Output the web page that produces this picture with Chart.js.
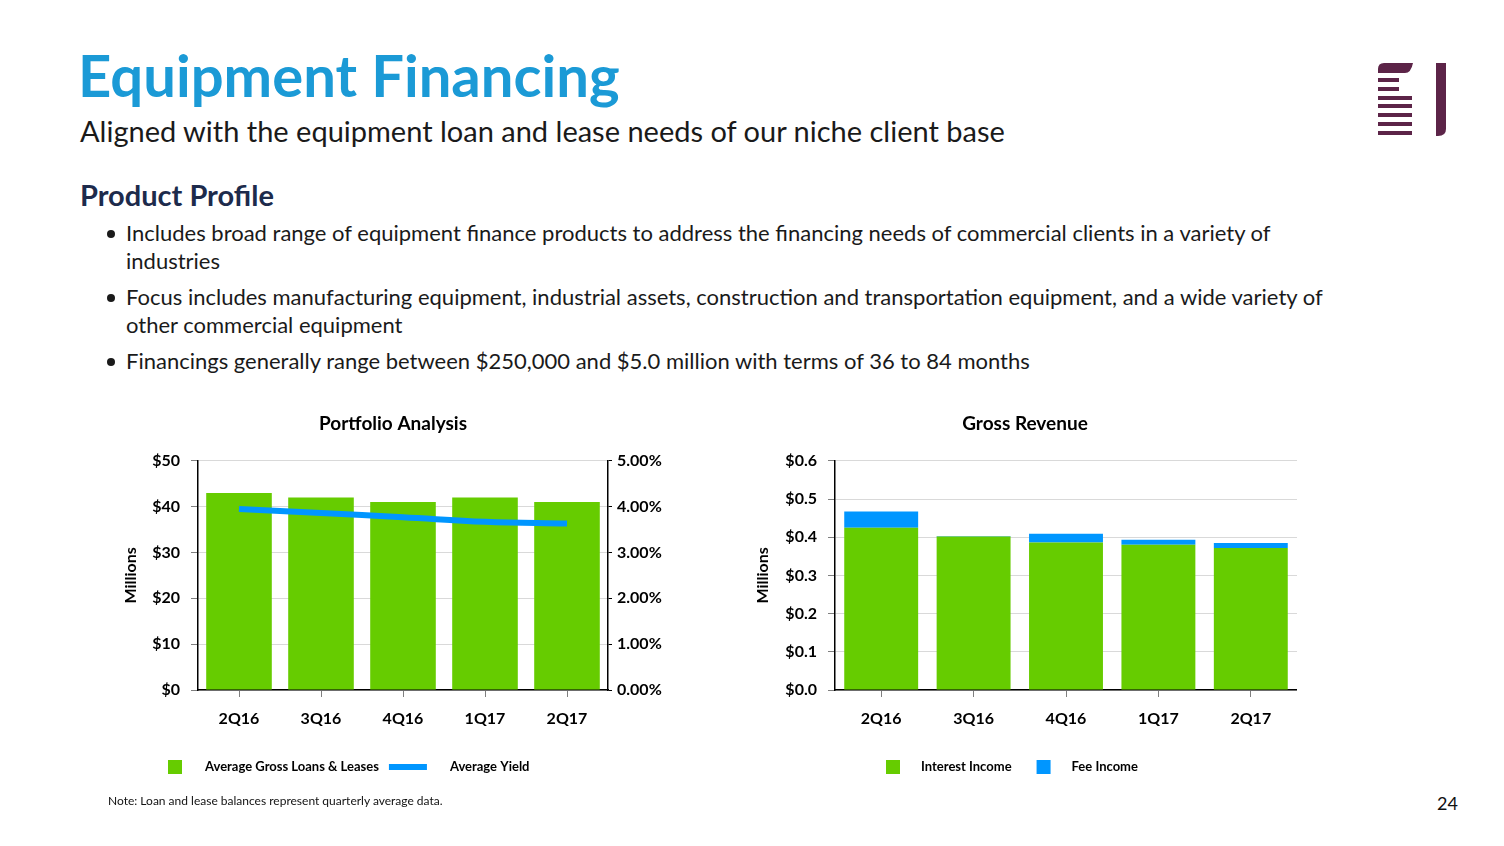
<!DOCTYPE html>
<html>
<head>
<meta charset="utf-8">
<script src="https://cdn.jsdelivr.net/npm/chart.js@4.4.0/dist/chart.umd.min.js"></script>
<style>
  body { margin: 0; width: 1504px; height: 846px; background: #fff; position: relative; overflow: hidden; font-family: Lato, "Open Sans", sans-serif; color: #111; }
  .abs { position: absolute; white-space: nowrap; }
  #title { left: 78px; top: 40px; font-size: 58px; font-weight: 700; color: #1b9ad6; line-height: 70px; }
  #subtitle { left: 80px; top: 114px; font-size: 29px; line-height: 34px; color: #1a1a1a; }
  #profile { left: 80px; top: 178px; font-size: 29px; font-weight: 700; line-height: 34px; color: #1d2b4c; }
  .bullet { left: 126px; font-size: 22px; line-height: 28px; color: #1a1a1a; }
  .bullet::before { content: ""; position: absolute; left: -19px; top: 11px; width: 8px; height: 8px; border-radius: 50%; background: #1a1a1a; }
  #note { left: 108px; top: 793px; font-size: 12px; line-height: 16px; color: #111; }
  #page { left: 1437px; top: 792px; font-size: 18px; line-height: 22px; color: #111; }
  canvas { position: absolute; }
</style>
</head>
<body>
<div id="title" class="abs">Equipment Financing</div>
<div id="subtitle" class="abs">Aligned with the equipment loan and lease needs of our niche client base</div>
<div id="profile" class="abs">Product Profile</div>
<div class="abs bullet" style="top:219px">Includes broad range of equipment finance products to address the financing needs of commercial clients in a variety of<br>industries</div>
<div class="abs bullet" style="top:283px">Focus includes manufacturing equipment, industrial assets, construction and transportation equipment, and a wide variety of<br>other commercial equipment</div>
<div class="abs bullet" style="top:347px">Financings generally range between $250,000 and $5.0 million with terms of 36 to 84 months</div>

<svg class="abs" style="left:1378px;top:63px" width="70" height="75" viewBox="0 0 70 75">
  <path d="M6 0 H35 Q33 10 27 10 H0 V6 Q0 0 6 0 Z" fill="#5c2448"/>
  <rect x="0" y="15" width="21" height="4" fill="#5c2448"/>
  <rect x="0" y="24" width="21" height="4" fill="#5c2448"/>
  <rect x="0" y="33" width="34" height="4" fill="#5c2448"/>
  <rect x="0" y="41" width="34" height="4" fill="#5c2448"/>
  <rect x="0" y="50" width="34" height="4" fill="#5c2448"/>
  <rect x="0" y="59" width="34" height="4" fill="#5c2448"/>
  <rect x="0" y="68" width="34" height="4" fill="#5c2448"/>
  <path d="M58 0 H68 V66 Q68 73 60 73 H58 Z" fill="#5c2448"/>
</svg>

<canvas id="portfolio" width="600" height="400" style="left:93px;top:400px"></canvas>
<canvas id="revenue" width="597" height="400" style="left:700px;top:400px"></canvas>

<div id="note" class="abs">Note: Loan and lease balances represent quarterly average data.</div>
<div id="page" class="abs">24</div>

<script>
// quarters shown on both charts
const quarters = ['2Q16', '3Q16', '4Q16', '1Q17', '2Q17'];

// Portfolio Analysis ($ millions, yield %)
const avgLoans = [43, 42, 41, 42, 41];
const avgYield = [3.95, 3.86, 3.77, 3.67, 3.63];

// Gross Revenue ($ millions)
const interestIncome = [0.425, 0.402, 0.386, 0.380, 0.372];
const feeIncome = [0.042, 0.001, 0.023, 0.013, 0.013];

const green = '#66cc00';
const blue = '#0096ff';
const font = 'Lato, "Open Sans", sans-serif';

Chart.defaults.font.family = font;
Chart.defaults.color = '#000';

const tickFont = { family: font, size: 16, weight: 'bold' };
const titleFont = { family: font, size: 19, weight: 'bold' };

// legend under the plot: square for bars, flat bar for the line
const bottomLegend = {
  id: 'bottomLegend',
  afterDraw(chart, args, opts) {
    const ctx = chart.ctx;
    ctx.save();
    ctx.font = 'bold 13px ' + font;
    ctx.textBaseline = 'middle';
    let x = opts.x;
    const y = opts.y;
    chart.data.datasets.forEach(ds => {
      if (ds.type === 'line') {
        ctx.fillStyle = ds.borderColor;
        ctx.fillRect(x, y - 3, 38, 6);
        x += 38;
      } else {
        ctx.fillStyle = ds.backgroundColor;
        ctx.fillRect(x, y - 7, 14, 14);
        x += 14;
      }
      x += opts.markGap;
      ctx.fillStyle = '#000';
      ctx.fillText(ds.label, x, y);
      x += ctx.measureText(ds.label).width + opts.itemGap;
    });
    ctx.restore();
  }
};

function yTitle(pad) {
  return { display: true, text: 'Millions', font: tickFont, color: '#000', padding: { top: pad, bottom: 0 } };
}

function xScale(stacked) {
  return {
    stacked: stacked,
    grid: { drawOnChartArea: false, offset: false, tickLength: 7, color: '#7f7f7f' },
    border: { color: '#000', width: 1.5 },
    ticks: { font: tickFont, color: '#000', padding: 12 },
    afterFit: s => { s.height = 40; }
  };
}

new Chart(document.getElementById('portfolio'), {
  type: 'bar',
  data: {
    labels: quarters,
    datasets: [
      { type: 'bar', label: 'Average Gross Loans & Leases', data: avgLoans, backgroundColor: green,
        yAxisID: 'y', barPercentage: 0.8, categoryPercentage: 1, order: 1 },
      { type: 'line', label: 'Average Yield', data: avgYield, borderColor: blue, borderWidth: 6,
        borderCapStyle: 'butt', pointRadius: 0, tension: 0.4, yAxisID: 'y1', order: 0 }
    ]
  },
  options: {
    responsive: false,
    animation: false,
    layout: { padding: { bottom: 70 } },
    plugins: {
      legend: { display: false },
      tooltip: { enabled: false },
      title: { display: true, text: 'Portfolio Analysis', font: titleFont, color: '#000',
               padding: { top: 12, bottom: 26 } },
      bottomLegend: { x: 75, y: 367, markGap: 23, itemGap: 10 }
    },
    scales: {
      x: xScale(false),
      y: {
        min: 0, max: 50,
        ticks: { stepSize: 10, font: tickFont, color: '#000', padding: 11, callback: v => '$' + v },
        grid: { color: '#d9d9d9', tickLength: 7, tickColor: '#7f7f7f' },
        border: { color: '#000', width: 1.5 },
        title: yTitle(28),
        afterFit: s => { s.width = 105; }
      },
      y1: {
        position: 'right',
        min: 0, max: 5,
        ticks: { stepSize: 1, font: tickFont, color: '#000', padding: 5, callback: v => v.toFixed(2) + '%' },
        grid: { drawOnChartArea: false, tickLength: 4, tickColor: '#000' },
        border: { color: '#000', width: 1.5 },
        afterFit: s => { s.width = 85; }
      }
    }
  },
  plugins: [bottomLegend]
});

new Chart(document.getElementById('revenue'), {
  type: 'bar',
  data: {
    labels: quarters,
    datasets: [
      { label: 'Interest Income', data: interestIncome, backgroundColor: green, barPercentage: 0.8, categoryPercentage: 1 },
      { label: 'Fee Income', data: feeIncome, backgroundColor: blue, barPercentage: 0.8, categoryPercentage: 1 }
    ]
  },
  options: {
    responsive: false,
    animation: false,
    layout: { padding: { left: 53, bottom: 70, right: 0 } },
    plugins: {
      legend: { display: false },
      tooltip: { enabled: false },
      title: { display: true, text: 'Gross Revenue', font: titleFont, color: '#000',
               padding: { top: 12, bottom: 26 } },
      bottomLegend: { x: 186, y: 367, markGap: 21, itemGap: 25 }
    },
    scales: {
      x: xScale(true),
      y: {
        stacked: true,
        min: 0, max: 0.6,
        ticks: { stepSize: 0.1, font: tickFont, color: '#000', padding: 11, callback: v => '$' + v.toFixed(1) },
        grid: { color: '#d9d9d9', tickLength: 7, tickColor: '#7f7f7f' },
        border: { color: '#000', width: 1.5 },
        title: yTitle(0),
        afterFit: s => { s.width = 82; }
      }
    }
  },
  plugins: [bottomLegend]
});
</script>
</body>
</html>
